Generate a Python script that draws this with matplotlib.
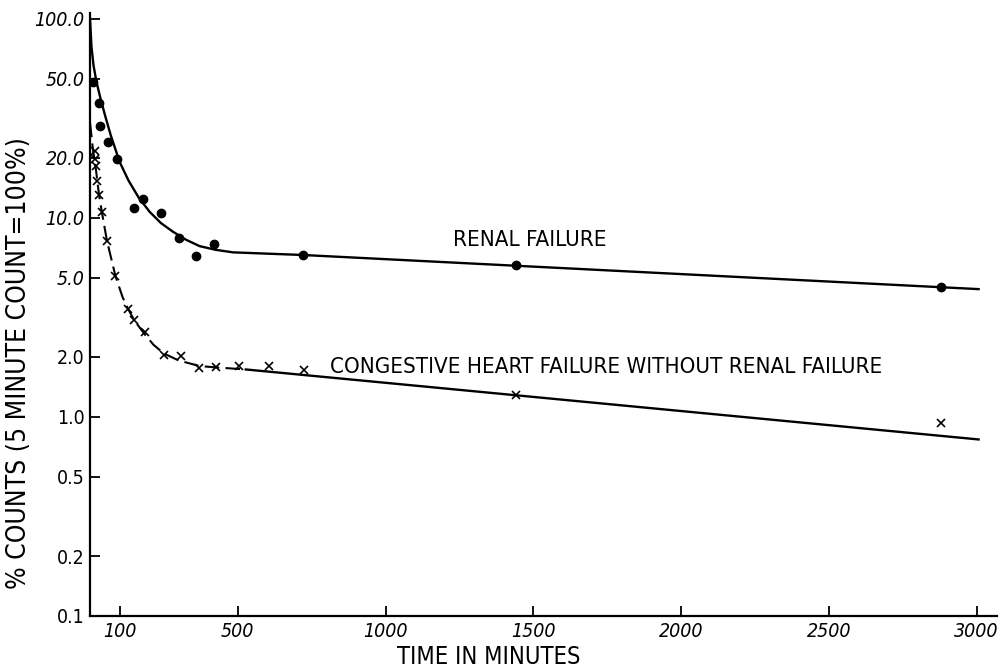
import matplotlib
matplotlib.use('Agg')
import matplotlib.pyplot as plt

# condensed lettering like the original drawing
plt.rcParams['font.family'] = ['DejaVu Sans']
plt.rcParams['font.stretch'] = 'condensed'

# measured points - renal failure (dots)
renal_t = [10, 30, 35, 60, 90, 150, 180, 240, 300, 360, 420, 720, 1440, 2880]
renal_v = [48, 37.5, 29, 24, 19.8, 11.2, 12.4, 10.6, 7.9, 6.4, 7.4, 6.5, 5.8, 4.5]

# fitted curve - renal failure
renal_fit_t = [0, 5, 12, 22, 35, 50, 70, 100, 130, 165, 202, 240, 281, 325, 371, 425, 484, 600, 720, 3007]
renal_fit_v = [100, 72, 58, 48, 40, 33, 26, 19.1, 15.4, 12.6, 10.7, 9.4, 8.5, 7.75, 7.2, 6.9, 6.7, 6.6, 6.5, 4.38]

# measured points - congestive heart failure (crosses)
chf_t = [16, 18, 19, 23, 29, 40, 57, 86, 127, 148, 185, 252, 309, 369, 427, 504, 605, 724, 1440, 2880]
chf_v = [21.6, 19.8, 18.2, 15.3, 13.0, 10.7, 7.65, 5.1, 3.47, 3.06, 2.68, 2.04, 2.02, 1.75, 1.79, 1.81, 1.81, 1.72, 1.29, 0.93]

# fitted curve - congestive heart failure (dashed early part, solid tail)
chf_fit_t = [0, 10, 20, 30, 40, 57, 86, 110, 128, 150, 185, 215, 250, 300, 370, 430, 527]
chf_fit_v = [30, 22, 17.5, 13.2, 10.7, 7.7, 5.1, 4.0, 3.5, 3.05, 2.6, 2.3, 2.08, 1.92, 1.8, 1.77, 1.73]
chf_tail_t = [527, 3007]
chf_tail_v = [1.73, 0.77]

xticks = [100, 500, 1000, 1500, 2000, 2500, 3000]
yticks = [0.1, 0.2, 0.5, 1, 2, 5, 10, 20, 50, 100]
ytick_labels = ['0.1', '0.2', '0.5', '1.0', '2.0', '5.0', '10.0', '20.0', '50.0', '100.0']

fig = plt.figure(figsize=(10.08, 6.71), dpi=100)
ax = fig.add_axes([0.0893, 0.082, 0.9, 0.899])

ax.plot(renal_fit_t, renal_fit_v, color='black', lw=1.7)
ax.plot(renal_t, renal_v, 'o', color='black', ms=6)

ax.plot(chf_fit_t, chf_fit_v, color='black', lw=1.5, dashes=(7, 3))
ax.plot(chf_tail_t, chf_tail_v, color='black', lw=1.7)
ax.plot(chf_t, chf_v, 'x', color='black', ms=6, mew=1.2)

ax.set_yscale('log')
ax.set_xlim(0, 3070)
ax.set_ylim(0.1, 107)

ax.set_xticks(xticks)
ax.set_xticklabels([str(t) for t in xticks], fontsize=14, style='italic')
ax.set_yticks(yticks)
ax.set_yticklabels(ytick_labels, fontsize=14)
ax.minorticks_off()
for lab in ax.get_yticklabels():
    if lab.get_text() in ('5.0', '10.0', '20.0', '50.0', '100.0'):
        lab.set_style('italic')
ax.tick_params(direction='in', length=7, width=1.3, pad=4, colors='black')

for s in ('top', 'right'):
    ax.spines[s].set_visible(False)
for s in ('left', 'bottom'):
    ax.spines[s].set_linewidth(1.6)

ax.set_xlabel('TIME IN MINUTES', fontsize=17)
ax.xaxis.set_label_coords(0.44, -0.048)
ax.set_ylabel('% COUNTS (5 MINUTE COUNT=100%)', fontsize=19)
ax.yaxis.set_label_coords(-0.064, 0.42)

ax.text(1227, 7.7, 'RENAL FAILURE', fontsize=16, va='center', ha='left')
ax.text(811, 1.77, 'CONGESTIVE HEART FAILURE WITHOUT RENAL FAILURE', fontsize=16,
        va='center', ha='left')

fig.savefig('out.png', dpi=100)
